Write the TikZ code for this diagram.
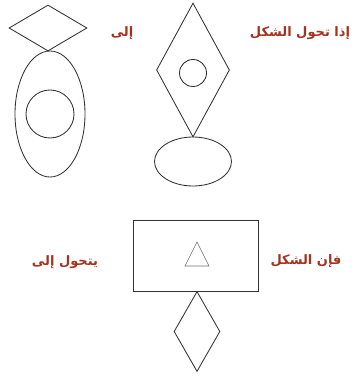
\documentclass[tikz,border=0pt]{standalone}
\usepackage{fontspec}
\usepackage{xcolor}
\usepackage{tikz}
\usetikzlibrary{shapes.geometric}
\newfontfamily\arabicfont[Script=Arabic]{DejaVu Sans}
\TeXXeTstate=1
\definecolor{shline}{RGB}{50,50,50}
\definecolor{txtred}{RGB}{165,50,30}

\begin{document}
\begin{tikzpicture}[
    x=1pt,
    y=1pt,
    dia/.style={draw=shline, line width=0.85pt, diamond, inner sep=0pt},
    ell/.style={draw=shline, line width=0.85pt, ellipse, inner sep=0pt},
    ring/.style={draw=shline, line width=0.85pt, circle, inner sep=0pt},
    frame/.style={draw=shline, line width=0.85pt, rectangle, inner sep=0pt},
    label/.style={text=txtred, font=\arabicfont\bfseries\fontsize{13}{15}\selectfont, inner sep=0pt}
]
\useasboundingbox (0,0) rectangle (356,-377);
% left shape
\node[dia, minimum width=78, minimum height=46] (leftdia) at (48,-28) {};
\node[ell, minimum width=70, minimum height=126] (leftell) at (50,-114) {};
\node[ring, minimum size=48] (leftcirc) at (50,-114) {};
% middle shape
\node[dia, minimum width=73, minimum height=134] (middia) at (193,-70) {};
\node[ring, minimum size=27] (midcirc) at (193,-73) {};
\node[ell, minimum width=77, minimum height=49] (midell) at (193,-161.5) {};
% lower shape
\node[frame, minimum width=125, minimum height=71] (box) at (195.5,-255.5) {};
\coordinate (tritop) at (197,-242);
\coordinate (trileft) at (185,-266);
\coordinate (triright) at (209,-266);
\draw[shline!70, line width=0.6pt] (tritop) -- (triright) -- (trileft) -- cycle;
\node[dia, minimum width=46, minimum height=80] (lowdia) at (197,-331.5) {};
% texts
\node[label] (txtif) at (300,-33) {\beginR إذا تحول الشكل\endR};
\node[label] (txtto) at (122,-33) {\beginR إلى\endR};
\node[label] (txtthen) at (306,-261) {\beginR فإن الشكل\endR};
\node[label] (txtbecomes) at (65,-262) {\beginR يتحول إلى\endR};
\end{tikzpicture}
\end{document}
